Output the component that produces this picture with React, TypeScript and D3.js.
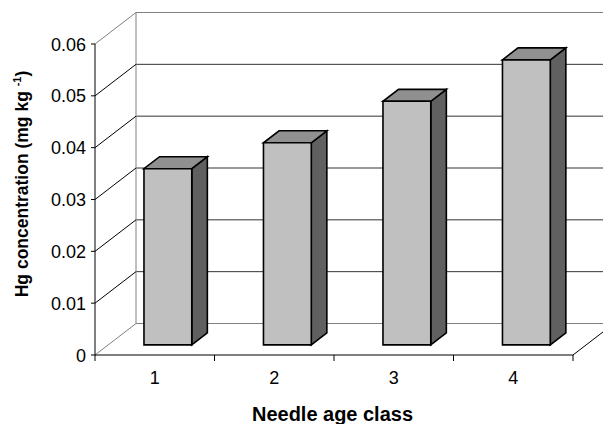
import React from 'react';
import * as d3 from 'd3';

const categories = ['1', '2', '3', '4'];
const values = [0.034, 0.039, 0.047, 0.055];
const yTicks = [0, 0.01, 0.02, 0.03, 0.04, 0.05, 0.06];
const yTickLabels = ['0', '0.01', '0.02', '0.03', '0.04', '0.05', '0.06'];

const W = 603;
const H = 424;
const X0 = 95;
const X1 = 573;
const YB = 355;
const YT = 44;
const DX = 41;
const DY = 31.5;
const F0 = 0.32;
const F1 = 0.7;
const FONT = "Arial, 'Liberation Sans', sans-serif";

export default function App() {
  const y = d3.scaleLinear().domain([0, 0.06]).range([YB, YT]);
  const xBand = d3.scaleBand().domain(categories).range([X0, X1]).padding(0);
  const xBar = d3.scaleBand().domain(categories).range([X0, X1]).paddingInner(0.6).paddingOuter(0.3);
  const proj = (x: number, v: number, f: number): [number, number] => [x + f * DX, y(v) - f * DY];
  const pts = (arr: [number, number][]) => arr.map((p) => p.join(',')).join(' ');
  const boundaries = [...categories.map((c) => xBand(c) as number), X1];

  return (
    <svg width={W} height={H} style={{ position: 'absolute', left: 0, top: 0, background: '#fff' }} fontFamily={FONT}>
      <rect x={0} y={0} width={W} height={H} fill="#fff" />
      {/* back wall grid lines */}
      {yTicks.map((t, i) => {
        const [ax, ay] = proj(X0, t, 1);
        const [bx] = proj(X1, t, 1);
        const edge = i === 0 || i === yTicks.length - 1;
        return <line key={'g' + i} x1={ax} y1={ay} x2={bx} y2={ay} stroke={edge ? '#808080' : '#333'} strokeWidth={1} />;
      })}
      {/* back wall left edge */}
      <line x1={X0 + DX} y1={y(0) - DY} x2={X0 + DX} y2={y(0.06) - DY} stroke="#808080" strokeWidth={1} />
      {/* left wall diagonals */}
      {yTicks.map((t, i) => {
        const [ax, ay] = proj(X0, t, 0);
        const [bx, by] = proj(X0, t, 1);
        const edge = i === 0 || i === yTicks.length - 1;
        return <line key={'d' + i} x1={ax} y1={ay} x2={bx} y2={by} stroke={edge ? '#808080' : '#000'} strokeWidth={1} />;
      })}
      {/* floor right diagonal */}
      <line x1={X1} y1={YB} x2={X1 + DX} y2={YB - DY} stroke="#000" strokeWidth={1} />
      {/* bars */}
      {categories.map((c, i) => {
        const v = values[i];
        const x0 = xBar(c) as number;
        const x1 = x0 + xBar.bandwidth();
        const front = [proj(x0, 0, F0), proj(x1, 0, F0), proj(x1, v, F0), proj(x0, v, F0)];
        const side = [proj(x1, 0, F0), proj(x1, 0, F1), proj(x1, v, F1), proj(x1, v, F0)];
        const top = [proj(x0, v, F0), proj(x1, v, F0), proj(x1, v, F1), proj(x0, v, F1)];
        return (
          <g key={'b' + c} stroke="#000" strokeWidth={1.6} strokeLinejoin="miter">
            <polygon points={pts(side)} fill="#606060" />
            <polygon points={pts(top)} fill="#909090" />
            <polygon points={pts(front)} fill="#C0C0C0" />
          </g>
        );
      })}
      {/* front y axis */}
      <line x1={X0} y1={YB} x2={X0} y2={YT} stroke="#000" strokeWidth={1} />
      {yTicks.map((t, i) => (
        <g key={'yt' + i}>
          <line x1={X0 - 4} y1={y(t)} x2={X0} y2={y(t)} stroke="#000" strokeWidth={1} />
          <text x={86} y={y(t) + 6.5} textAnchor="end" fontSize={18} fill="#000">
            {yTickLabels[i]}
          </text>
        </g>
      ))}
      {/* front x axis */}
      <line x1={X0} y1={YB} x2={X1} y2={YB} stroke="#000" strokeWidth={1} />
      {boundaries.map((b, i) => (
        <line key={'xt' + i} x1={b} y1={YB} x2={b} y2={YB + 6} stroke="#000" strokeWidth={1} />
      ))}
      {categories.map((c) => (
        <text key={'xl' + c} x={(xBand(c) as number) + xBand.bandwidth() / 2} y={384} textAnchor="middle" fontSize={18} fill="#000">
          {c}
        </text>
      ))}
      <text x={332.5} y={421} textAnchor="middle" fontSize={19.5} fontWeight="bold" textLength={161} lengthAdjust="spacingAndGlyphs" fill="#000">
        Needle age class
      </text>
      <g transform="translate(28,184) rotate(-90)">
        <text x={0} y={0} textAnchor="middle" fontSize={17.5} fontWeight="bold" fill="#000">
          <tspan>Hg concentration (mg kg </tspan>
          <tspan fontSize={11} dy={-7}>-1</tspan>
          <tspan dy={7}>)</tspan>
        </text>
      </g>
    </svg>
  );
}
